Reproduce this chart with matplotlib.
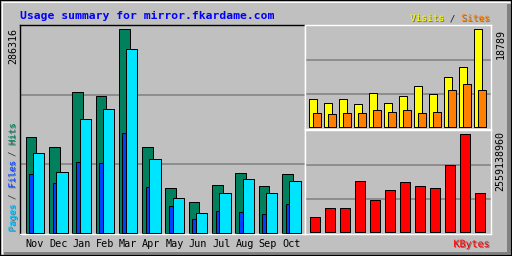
import numpy as np
import matplotlib
matplotlib.use("Agg")
import matplotlib.pyplot as plt
import matplotlib.patheffects as pe
from matplotlib.patches import Rectangle
from matplotlib.lines import Line2D

# --- data ---
TITLE = "Usage summary for mirror.fkardame.com"
months = ["Nov", "Dec", "Jan", "Feb", "Mar", "Apr", "May", "Jun", "Jul", "Aug", "Sep", "Oct"]
hits = [134500, 120500, 197800, 192100, 286316, 120500, 62800, 43100, 67000, 83900, 65600, 82500]
files = [112000, 85300, 159800, 173900, 258200, 103600, 48800, 27700, 55800, 75500, 55800, 72700]
pages = [82900, 70300, 99800, 98400, 140600, 64200, 37500, 19300, 30500, 29100, 26300, 40300]
visits = [5368, 4601, 5368, 4410, 6518, 4601, 5943, 7861, 6327, 9586, 11503, 18789]
sites = [2684, 2492, 2684, 2684, 3259, 2876, 3259, 2684, 2876, 7093, 8243, 7093]
kbytes = [391700000, 626700000, 626700000, 1331800000, 835600000, 1096800000,
          1305700000, 1201200000, 1149000000, 1749600000, 2559138960, 1018400000]

# --- style ---
BG = "#c0c0c0"
GRID = "#808080"
C_HITS, C_FILES, C_PAGES = "#00805c", "#00e5ff", "#0040ff"
C_VISITS, C_SITES, C_KB = "#ffff00", "#ff8000", "#ff0000"
LW = 0.72          # one pixel at 100 dpi
MONO = "DejaVu Sans Mono"
FS = 6.8
FS_NUM = 7.2
FS_MON = 7.3
W, H = 512, 256


def fx(px):
    return px / W


def fy(py):
    return 1 - py / H


def shadow():
    return [pe.withSimplePatchShadow(offset=(0.7, -0.7), shadow_rgbFace="#606060", alpha=0.9)]


def setup(ax, ylo, yhi, xl, xr, spine_cols):
    ax.set_facecolor(BG)
    ax.set_xlim(xl, xr)
    ax.set_ylim(ylo, yhi)
    ax.set_yticks([ylo + (yhi - ylo) / 3, ylo + 2 * (yhi - ylo) / 3])
    ax.set_xticks([])
    ax.tick_params(left=False, labelleft=False)
    ax.grid(axis="y", color=GRID, linewidth=1.1, zorder=0)
    ax.set_axisbelow(True)
    for side, col in spine_cols.items():
        ax.spines[side].set_color(col)
        ax.spines[side].set_linewidth(LW * 1.4)


fig = plt.figure(figsize=(W / 100, H / 100), dpi=100, facecolor=BG)

# outer bevelled frame
fig.add_artist(Rectangle((fx(507), 0), 4 / W, fy(4), transform=fig.transFigure,
                         color="#808080", lw=0, zorder=-1))
fig.add_artist(Rectangle((fx(4), 0), 507 / W, 4.5 / H, transform=fig.transFigure,
                         color="#808080", lw=0, zorder=-1))
fig.add_artist(Line2D([fx(1.5), fx(509)], [fy(1.5), fy(1.5)], transform=fig.transFigure,
                      color="white", lw=LW, zorder=-1))
fig.add_artist(Line2D([fx(1.5), fx(1.5)], [fy(1.5), fy(253)], transform=fig.transFigure,
                      color="white", lw=LW, zorder=-1))
fig.add_artist(Rectangle((0, 0), 1, 1, transform=fig.transFigure, fill=False, ec="black", lw=1.5))

x = np.arange(len(months))

# --- main panel: hits / files / pages ---
ax = fig.add_axes([fx(20), fy(234), 285 / W, 209 / H])
top = max(hits)
setup(ax, -top / 203.7, top * 208 / 203.7, -0.644, 11.59,
      {"left": "black", "top": "black", "right": "white", "bottom": "white"})
ax.bar(x - 0.172, hits, width=0.46, color=C_HITS, edgecolor="black", linewidth=LW, zorder=2)
ax.bar(x - 0.16, pages, width=0.17, color=C_PAGES, edgecolor="black", linewidth=LW, zorder=3)
ax.bar(x + 0.157, files, width=0.485, color=C_FILES, edgecolor="black", linewidth=LW, zorder=4)
for i, m in enumerate(months):
    ax.annotate(m, (x[i], 0), xycoords=("data", "axes fraction"), xytext=(0, -9.3),
                textcoords="offset points", ha="center", va="baseline",
                fontsize=FS_MON, family=MONO, color="black")

# --- upper right: visits / sites ---
ax2 = fig.add_axes([fx(305), fy(129), 186 / W, 104 / H])
top2 = max(visits)
setup(ax2, -top2 * 1.7 / 98, top2 * 102.3 / 98, -0.667, 11.733,
      {"left": "white", "top": "white", "right": "white", "bottom": "white"})
ax2.bar(x - 0.133, visits, width=0.49, color=C_VISITS, edgecolor="black", linewidth=LW, zorder=2)
ax2.bar(x + 0.133, sites, width=0.49, color=C_SITES, edgecolor="black", linewidth=LW, zorder=3)

# --- lower right: kbytes ---
ax3 = fig.add_axes([fx(305), fy(234), 186 / W, 104 / H])
top3 = max(kbytes)
setup(ax3, -top3 * 1.7 / 98, top3 * 102.3 / 98, -0.667, 11.733,
      {"left": "white", "top": "white", "right": "white", "bottom": "white"})
ax3.bar(x, kbytes, width=0.63, color=C_KB, edgecolor="black", linewidth=LW, zorder=2)

# --- texts ---
fig.text(fx(20), fy(19), TITLE, fontsize=8.2, family=MONO, weight="bold", color="#0000ff",
         ha="left", va="baseline")

# Visits / Sites legend, right aligned
adv = 0.602 * FS * 100 / 72
legend_top = [("Sites", C_SITES, True), (" / ", "#202020", False), ("Visits", C_VISITS, True)]
xr = 490
for txt, col, sh in legend_top:
    fig.text(fx(xr), fy(21), txt, fontsize=FS, family=MONO, color=col, ha="right", va="baseline",
             path_effects=shadow() if sh else None)
    xr -= adv * len(txt)

fig.text(fx(489.5), fy(247), "KBytes", fontsize=FS_NUM, family=MONO, color=C_KB, ha="right",
         va="baseline", path_effects=shadow())

# vertical max labels
fig.text(fx(12.8), fy(28), str(max(hits)), rotation=90, fontsize=FS_NUM, family=MONO,
         ha="center", va="top")
fig.text(fx(500.5), fy(29), str(max(visits)), rotation=90, fontsize=FS_NUM, family=MONO,
         ha="center", va="top")
fig.text(fx(500.5), fy(131), str(max(kbytes)), rotation=90, fontsize=FS_NUM, family=MONO,
         ha="center", va="top")

# Pages / Files / Hits, bottom-to-top
adv_v = 5.4
pieces = [("Pages", "#00c0ff", True, 0), ("/", "#303030", False, 6), ("Files", "#0040ff", True, 8),
          ("/", "#303030", False, 14), ("Hits", C_HITS, True, 16)]
for txt, col, sh, idx in pieces:
    fig.text(fx(12.5), fy(231.5 - idx * adv_v), txt, rotation=90, fontsize=6.6, family=MONO,
             color=col, ha="center", va="bottom", path_effects=shadow() if sh else None)

fig.savefig("out.png", dpi=100, facecolor=BG)
